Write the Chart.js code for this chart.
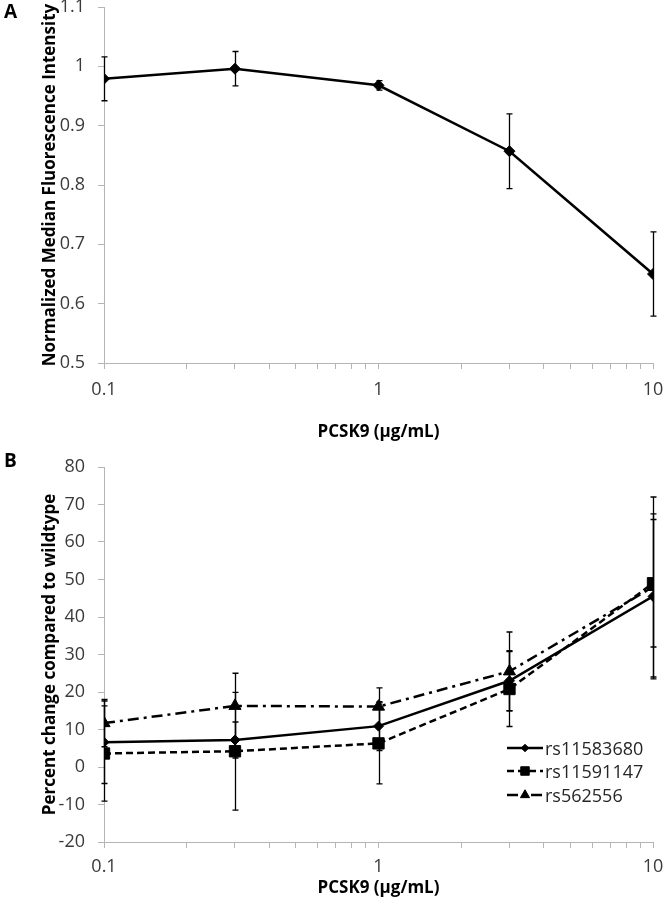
<!DOCTYPE html>
<html lang="en">
<head>
<meta charset="utf-8">
<title>PCSK9</title>
<script src="https://cdn.jsdelivr.net/npm/chart.js@4.4.1/dist/chart.umd.min.js"></script>
<style>
  html, body { margin: 0; padding: 0; background: #fff; }
  #lienzo { position: relative; width: 664px; height: 900px; overflow: hidden; }
  #lienzo canvas.panel { position: absolute; left: 0; }
  #graficaA { top: 0; }
  #graficaB { top: 450px; }
  .letra { position: absolute; left: 4px; font: bold 19px/1 'Open Sans', sans-serif; color: #000; }
  #leyenda { position: absolute; left: 507px; top: 736px; font: 18px/1 'Open Sans', sans-serif; color: #262626; }
  .leyenda-item { display: flex; align-items: center; height: 23.5px; }
  .leyenda-item canvas { margin-right: 2px; }
</style>
</head>
<body>
<div id="lienzo">
  <canvas id="graficaA" class="panel" width="664" height="450"></canvas>
  <canvas id="graficaB" class="panel" width="664" height="450"></canvas>
  <div class="letra" style="top:2px">A</div>
  <div class="letra" style="top:451px">B</div>
  <div id="leyenda"></div>
</div>
<script>
/* ---------- Datos ---------- */
const concentraciones = [0.1, 0.3, 1, 3, 10];

// Panel A: intensidad de fluorescencia normalizada
const intensidadMedia = [0.979, 0.996, 0.968, 0.857, 0.650];
const intensidadError = [0.037, 0.029, 0.008, 0.063, 0.071];

// Panel B: cambio porcentual frente a wildtype
const nombresSnp = ['rs11583680', 'rs11591147', 'rs562556'];
const cambioRs11583680 = [6.6, 7.2, 10.9, 23.0, 45.5];
const errorRs11583680  = [11.0, 4.8, 6.5, 8.0, 22.0];
const cambioRs11591147 = [3.6, 4.2, 6.3, 20.8, 49.0];
const errorRs11591147  = [12.7, 15.7, 10.8, 10.0, 17.0];
const cambioRs562556   = [11.7, 16.3, 16.1, 25.5, 48.0];
const errorRs562556    = [6.3, 8.7, 5.0, 10.5, 24.0];

// Marcas del eje X (logarítmico) y las que llevan texto
const marcasX = [0.1, 0.2, 0.3, 0.4, 0.5, 0.6, 0.7, 0.8, 0.9, 1, 2, 3, 4, 5, 6, 7, 8, 9, 10];
const etiquetasX = [0.1, 1, 10];

/* ---------- Estilos ---------- */
const COLOR_EJE = '#b5b5b5';
const COLOR_TEXTO = '#3a3a3a';
const fuenteTicks = { family: 'Open Sans', size: 18 };
const fuenteTitulo = { family: 'Open Sans', size: 17, weight: 'bold' };

const estilosSnp = [
  { dash: [], punto: 'rectRot', radio: 5 },
  { dash: [7, 4], punto: 'rect', radio: 8 },
  { dash: [11, 5, 3, 5], punto: 'triangle', radio: 7 }
];

/* Barras de error dibujadas con las escalas del gráfico */
const barrasError = {
  id: 'barrasError',
  beforeDatasetsDraw(chart) {
    const ctx = chart.ctx;
    const ejeX = chart.scales.x;
    const ejeY = chart.scales.y;
    ctx.save();
    ctx.strokeStyle = '#000';
    ctx.lineWidth = 1.3;
    chart.data.datasets.forEach((ds) => {
      if (!ds.errores) return;
      ds.data.forEach((p, k) => {
        const e = ds.errores[k];
        const px = Math.round(ejeX.getPixelForValue(p.x)) + 0.5;
        const yArriba = ejeY.getPixelForValue(p.y + e);
        const yAbajo = ejeY.getPixelForValue(p.y - e);
        ctx.beginPath();
        ctx.moveTo(px, yArriba); ctx.lineTo(px, yAbajo);
        ctx.moveTo(px - 3, yArriba); ctx.lineTo(px + 3, yArriba);
        ctx.moveTo(px - 3, yAbajo); ctx.lineTo(px + 3, yAbajo);
        ctx.stroke();
      });
    });
    ctx.restore();
  }
};

function configEjeX(altura, rellenoEtiqueta, rellenoTitulo) {
  return {
    type: 'logarithmic',
    min: 0.1,
    max: 10,
    afterBuildTicks: (eje) => { eje.ticks = marcasX.map(v => ({ value: v })); },
    afterFit: (eje) => { eje.height = altura; eje.paddingLeft = 0; eje.paddingRight = 0; },
    ticks: {
      autoSkip: false, maxRotation: 0, minRotation: 0,
      padding: rellenoEtiqueta, color: COLOR_TEXTO, font: fuenteTicks,
      callback: (v) => etiquetasX.includes(v) ? String(v) : ''
    },
    grid: { drawOnChartArea: false, tickLength: 6, color: COLOR_EJE, lineWidth: 1 },
    border: { color: COLOR_EJE, width: 1 },
    title: {
      display: true, text: 'PCSK9 (µg/mL)', color: '#000', font: fuenteTitulo,
      padding: { top: 0, bottom: rellenoTitulo }
    }
  };
}

function configEjeY(min, max, paso, decimales, titulo) {
  return {
    min: min,
    max: max,
    afterFit: (eje) => { eje.width = 104; eje.paddingTop = 0; eje.paddingBottom = 0; },
    ticks: {
      stepSize: paso, padding: 13, color: COLOR_TEXTO, font: fuenteTicks,
      callback: (v) => String(+v.toFixed(decimales))
    },
    grid: { drawOnChartArea: false, tickLength: 6, color: COLOR_EJE, lineWidth: 1 },
    border: { color: COLOR_EJE, width: 1 },
    title: {
      display: true, text: titulo, color: '#000', font: fuenteTitulo,
      padding: { top: 40, bottom: 0 }
    }
  };
}

function puntos(valores) {
  return concentraciones.map((x, i) => ({ x: x, y: valores[i] }));
}

function serie(etiqueta, valores, errores, estilo, grosor) {
  return {
    label: etiqueta,
    data: puntos(valores),
    errores: errores,
    borderColor: '#000',
    backgroundColor: '#000',
    borderWidth: grosor,
    borderDash: estilo.dash,
    pointStyle: estilo.punto,
    pointRadius: estilo.radio,
    pointBorderWidth: 1,
    pointBorderColor: '#000',
    pointBackgroundColor: '#000',
    tension: 0,
    fill: false
  };
}

const opcionesBase = {
  responsive: false,
  animation: false,
  events: [],
  plugins: { legend: { display: false }, tooltip: { enabled: false } }
};

/* ---------- Panel A ---------- */
new Chart(document.getElementById('graficaA'), {
  type: 'line',
  data: {
    datasets: [
      serie('MFI', intensidadMedia, intensidadError, { dash: [], punto: 'rectRot', radio: 5.5 }, 2.5)
    ]
  },
  options: Object.assign({}, opcionesBase, {
    layout: { padding: { top: 7, right: 11, bottom: 0, left: 0 } },
    scales: {
      x: configEjeX(87, 10, 8),
      y: configEjeY(0.5, 1.1, 0.1, 1, 'Normalized Median Fluorescence Intensity')
    }
  }),
  plugins: [barrasError]
});

/* ---------- Panel B ---------- */
const valoresB = [cambioRs11583680, cambioRs11591147, cambioRs562556];
const erroresB = [errorRs11583680, errorRs11591147, errorRs562556];

new Chart(document.getElementById('graficaB'), {
  type: 'line',
  data: {
    datasets: nombresSnp.map((n, i) => serie(n, valoresB[i], erroresB[i], estilosSnp[i], 2.5))
  },
  options: Object.assign({}, opcionesBase, {
    layout: { padding: { top: 17, right: 11, bottom: 0, left: 0 } },
    scales: {
      x: configEjeX(58, 8, 2),
      y: configEjeY(-20, 80, 10, 0, 'Percent change compared to wildtype')
    }
  }),
  plugins: [barrasError]
});

/* ---------- Leyenda HTML del panel B ---------- */
function actualizarLeyenda() {
  const contenedor = document.getElementById('leyenda');
  nombresSnp.forEach((nombre, i) => {
    const fila = document.createElement('div');
    fila.className = 'leyenda-item';
    const muestra = document.createElement('canvas');
    muestra.width = 36;
    muestra.height = 20;
    const ctx = muestra.getContext('2d');
    ctx.strokeStyle = '#000';
    ctx.lineWidth = 2.5;
    ctx.setLineDash(estilosSnp[i].dash);
    ctx.beginPath();
    ctx.moveTo(0, 10);
    ctx.lineTo(36, 10);
    ctx.stroke();
    ctx.setLineDash([]);
    ctx.fillStyle = '#000';
    ctx.lineWidth = 1;
    Chart.helpers.drawPoint(ctx, {
      pointStyle: estilosSnp[i].punto,
      radius: estilosSnp[i].radio * 0.75,
      rotation: 0,
      borderWidth: 1
    }, 18, 10);
    const texto = document.createElement('span');
    texto.textContent = nombre;
    fila.appendChild(muestra);
    fila.appendChild(texto);
    contenedor.appendChild(fila);
  });
}
actualizarLeyenda();
</script>
</body>
</html>
